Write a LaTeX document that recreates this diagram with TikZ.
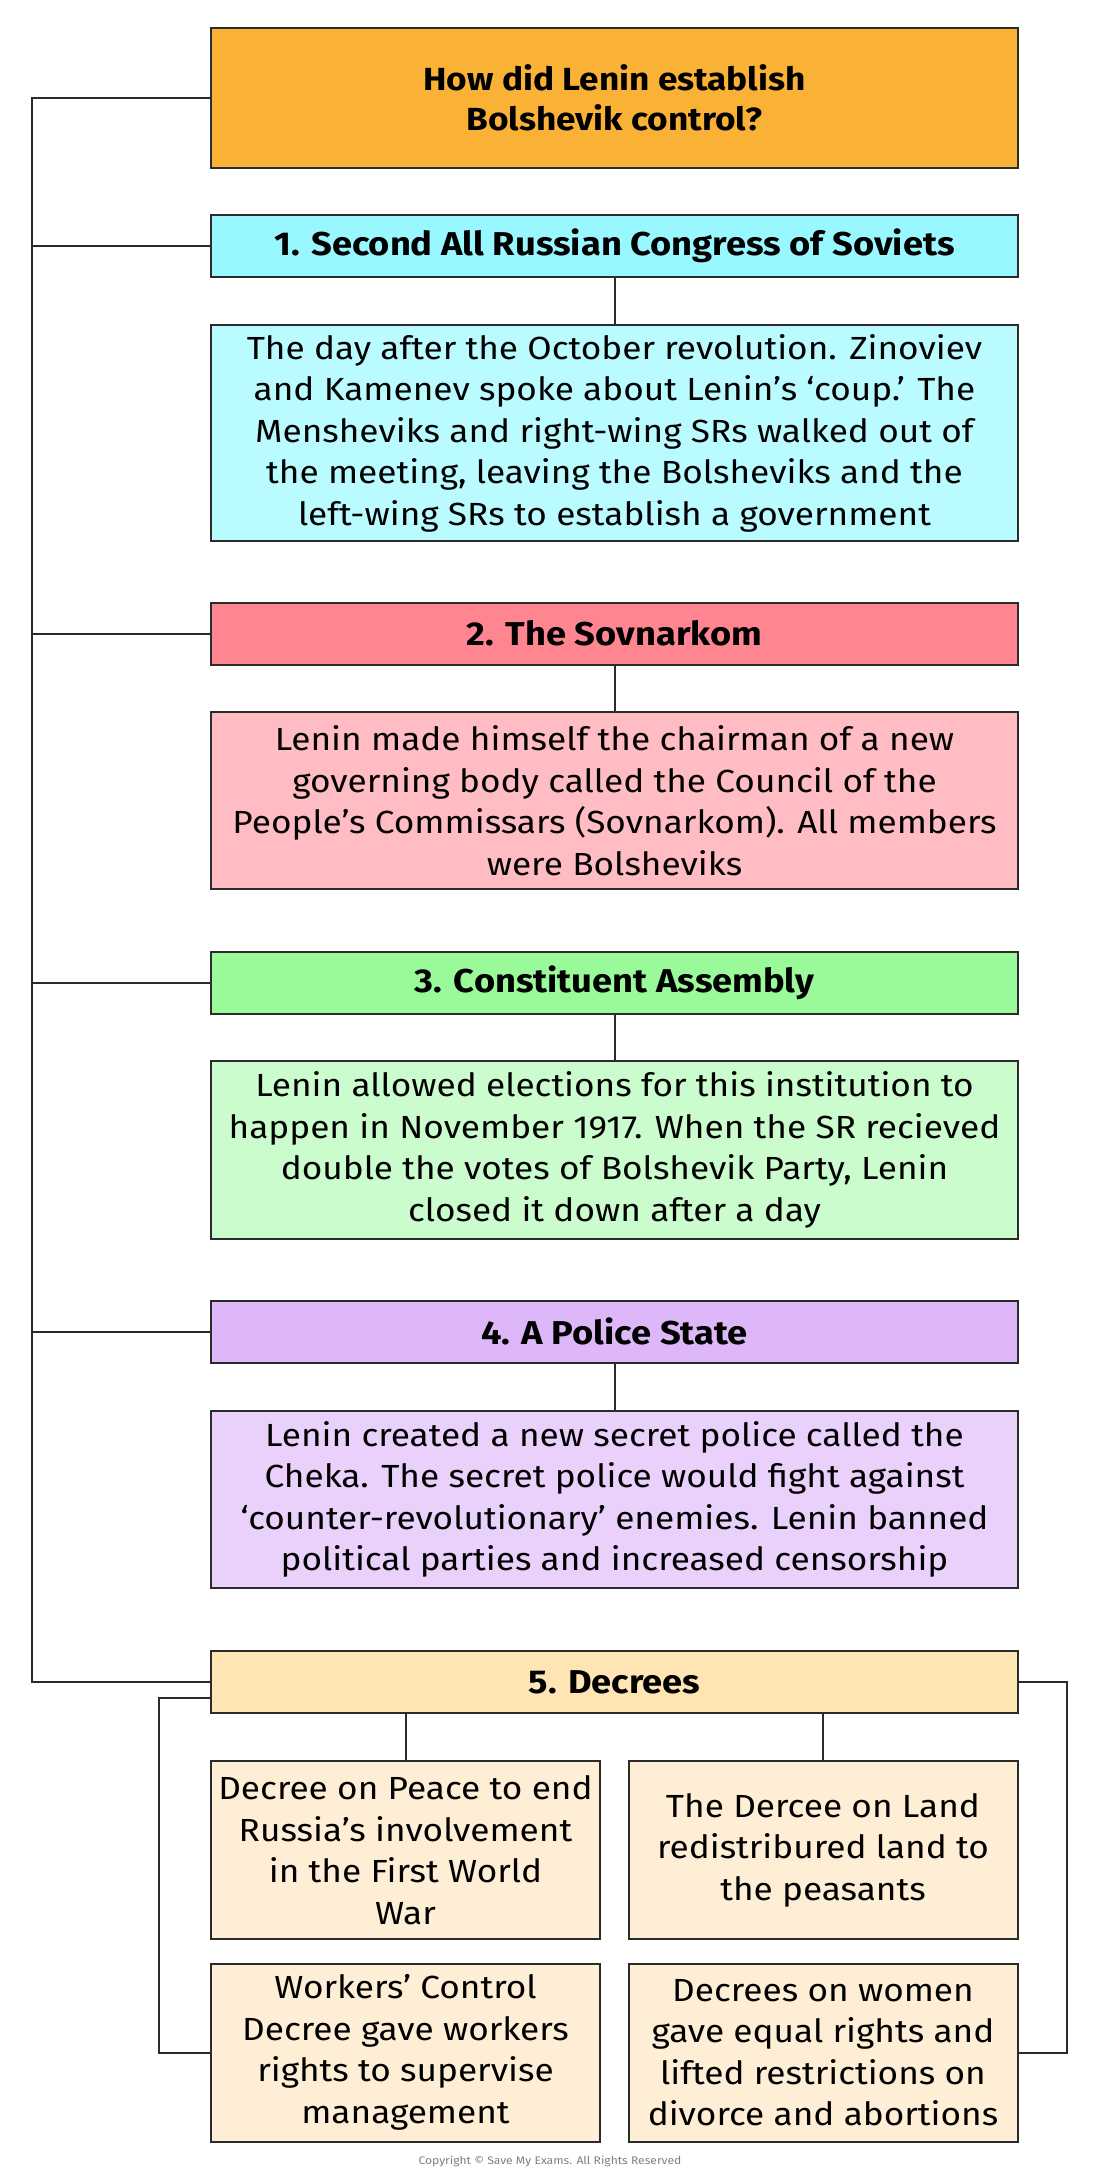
\documentclass[tikz,border=0pt]{standalone}
\usepackage{fontspec}
\setmainfont[FakeStretch=1.1]{Fira Sans}
\definecolor{titlec}{HTML}{F9B236}
\definecolor{h1c}{HTML}{99F7FF}
\definecolor{b1c}{HTML}{B9FBFF}
\definecolor{h2c}{HTML}{FF8691}
\definecolor{b2c}{HTML}{FFBCC3}
\definecolor{h3c}{HTML}{9AFA9A}
\definecolor{b3c}{HTML}{CBFCCD}
\definecolor{h4c}{HTML}{DEB7F8}
\definecolor{b4c}{HTML}{E9D1FB}
\definecolor{h5c}{HTML}{FFE5B4}
\definecolor{sc}{HTML}{FFEED6}
\definecolor{linec}{HTML}{2B2B2B}
\tikzset{
  box/.style={draw=linec, line width=1pt, rectangle, inner sep=0pt, align=center, font=\fontsize{16}{20.75}\selectfont},
  hdr/.style={box, minimum width=403.5pt, minimum height=31pt, font=\fontsize{16.5}{20}\selectfont\bfseries},
  bodybox/.style={box, minimum width=403.5pt},
  subbox/.style={box, minimum width=194.5pt, minimum height=89pt},
  conn/.style={draw=linec, line width=1pt},
}
\begin{document}
\begin{tikzpicture}[x=0.5pt,y=-0.5pt]
\useasboundingbox (0,0) rectangle (1100,2178);
\fill[white] (0,0) rectangle (1100,2178);

\node[box, fill=titlec, minimum width=403.5pt, minimum height=70pt, font=\fontsize{16}{20}\selectfont\bfseries] (title) at (614.5,98) {How did Lenin establish\\Bolshevik control?};

\node[hdr, fill=h1c] (h1) at (614.5,246) {1. Second All Russian Congress of Soviets};
\node[bodybox, fill=b1c, minimum height=108pt] (b1) at (614.5,433) {The day after the October revolution. Zinoviev\\and Kamenev spoke about Lenin’s ‘coup.’ The\\Mensheviks and right-wing SRs walked out of\\the meeting, leaving the Bolsheviks and the\\left-wing SRs to establish a government};

\node[hdr, fill=h2c] (h2) at (614.5,633.5) {2. The Sovnarkom};
\node[bodybox, fill=b2c, minimum height=88.5pt] (b2) at (614.5,800.5) {Lenin made himself the chairman of a new\\governing body called the Council of the\\People’s Commissars (Sovnarkom). All members\\were Bolsheviks};

\node[hdr, fill=h3c] (h3) at (614.5,982.5) {3. Constituent Assembly};
\node[bodybox, fill=b3c, minimum height=89pt] (b3) at (614.5,1150) {Lenin allowed elections for this institution to\\happen in November 1917. When the SR recieved\\double the votes of Bolshevik Party, Lenin\\closed it down after a day};

\node[hdr, fill=h4c] (h4) at (614.5,1331.5) {4. A Police State};
\node[bodybox, fill=b4c, minimum height=88.5pt] (b4) at (614.5,1499.5) {Lenin created a new secret police called the\\Cheka. The secret police would fight against\\‘counter-revolutionary’ enemies. Lenin banned\\political parties and increased censorship};

\node[hdr, fill=h5c] (h5) at (614.5,1682) {5. Decrees};

\node[subbox, fill=sc] (s1) at (405.5,1850) {Decree on Peace to end\\Russia’s involvement\\in the First World\\War};
\node[subbox, fill=sc] (s2) at (823,1850) {The Dercee on Land\\redistribured land to\\the peasants};
\node[subbox, fill=sc] (s3) at (405.5,2052.5) {Workers’ Control\\Decree gave workers\\rights to supervise\\management};
\node[subbox, fill=sc] (s4) at (823,2052.5) {Decrees on women\\gave equal rights and\\lifted restrictions on\\divorce and abortions};

\node[font=\fontsize{5.5}{6}\selectfont, text=gray] (copy) at (550,2161) {Copyright © Save My Exams. All Rights Reserved};

% spine
\coordinate (spine) at (32,98);
\coordinate (lb) at (159,2052.5);
\coordinate (rb) at (1067,2052.5);
\draw[conn] (title.west) -- (spine) |- (h5.west);
\draw[conn] (h1.west) -- (h1.west -| spine);
\draw[conn] (h2.west) -- (h2.west -| spine);
\draw[conn] (h3.west) -- (h3.west -| spine);
\draw[conn] (h4.west) -- (h4.west -| spine);
% stems
\draw[conn] (h1.south) -- (b1.north);
\draw[conn] (h2.south) -- (b2.north);
\draw[conn] (h3.south) -- (b3.north);
\draw[conn] (h4.south) -- (b4.north);
\draw[conn] (s1.north) -- (s1.north |- h5.south);
\draw[conn] (s2.north) -- (s2.north |- h5.south);
% brackets
\draw[conn] ([yshift=-8pt]h5.west) -| (lb) -- (s3.west);
\draw[conn] (h5.east) -| (rb) -- (s4.east);
\end{tikzpicture}
\end{document}
